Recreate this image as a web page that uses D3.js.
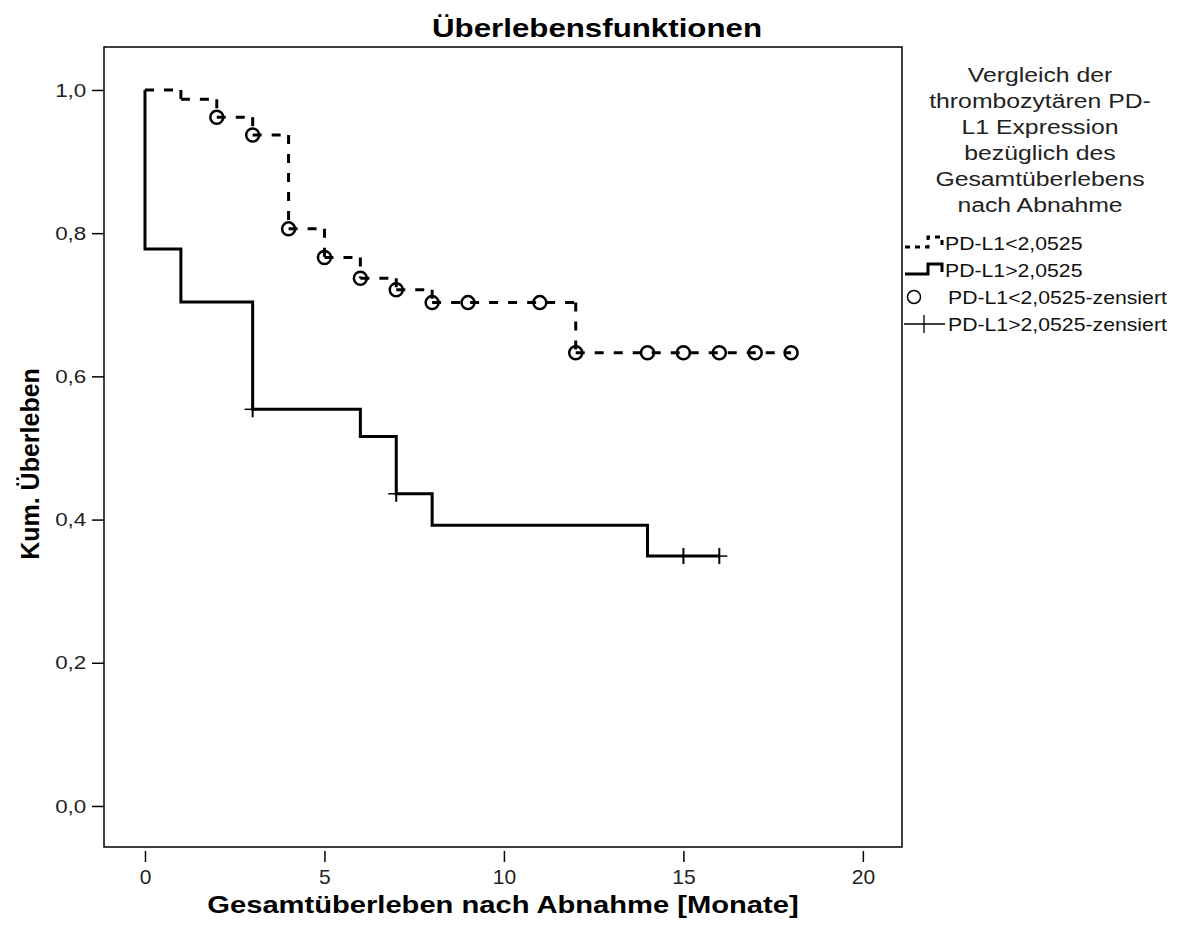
<!DOCTYPE html>
<html>
<head>
<meta charset="utf-8">
<script src="https://cdn.jsdelivr.net/npm/d3@7/dist/d3.min.js"></script>
<style>
  html, body { margin: 0; padding: 0; background: #fff; }
  svg { display: block; }
</style>
</head>
<body>
<script>
// Kaplan-Meier survival: overall survival after sampling, split by platelet PD-L1 expression
const groupNames = ["PD-L1<2,0525", "PD-L1>2,0525"];

// Low group: event times and survival after each event
const lowEventTimes = [1, 2, 3, 4, 5, 6, 7, 8, 12];
const lowSurvival   = [0.987, 0.962, 0.937, 0.806, 0.766, 0.737, 0.721, 0.703, 0.633];
const lowLastTime   = 18;
const lowCensored   = [2, 3, 4, 5, 6, 7, 8, 9, 11, 12, 14, 15, 16, 17, 18];

// High group
const highEventTimes = [0, 1, 3, 6, 7, 8, 14];
const highSurvival   = [0.778, 0.704, 0.554, 0.516, 0.436, 0.392, 0.349];
const highLastTime   = 16;
const highCensored   = [3, 7, 15, 16];

const xTicks = [0, 5, 10, 15, 20];
const yTicks = [0, 0.2, 0.4, 0.6, 0.8, 1.0];

const chartTitle = "Überlebensfunktionen";
const xTitle = "Gesamtüberleben nach Abnahme [Monate]";
const yTitle = "Kum. Überleben";
const legendTitle = ["Vergleich der", "thrombozytären PD-", "L1 Expression", "bezüglich des", "Gesamtüberlebens", "nach Abnahme"];
const legendLabels = ["PD-L1<2,0525", "PD-L1>2,0525", "PD-L1<2,0525-zensiert", "PD-L1>2,0525-zensiert"];

const W = 1177, H = 937;
const FONT = "'Liberation Sans', Arial, sans-serif";
const SX = 1.18; // horizontal glyph stretch

const frame = { left: 104, right: 902, top: 47, bottom: 847 };

const x = d3.scaleLinear().domain([-1.142, 21.09]).range([frame.left, frame.right]);
const y = d3.scaleLinear().domain([-0.0573, 1.06]).range([frame.bottom, frame.top]);

const svg = d3.select("body").append("svg").attr("width", W).attr("height", H);
svg.append("rect").attr("width", W).attr("height", H).attr("fill", "#fff");

function label(parent, px, py, str, size, weight, anchor, sx = SX) {
  return parent.append("text")
    .attr("transform", `translate(${px},${py}) scale(${sx},1)`)
    .attr("font-family", FONT)
    .attr("font-size", size)
    .attr("font-weight", weight)
    .attr("text-anchor", anchor)
    .attr("fill", "#000")
    .text(str);
}

// Frame
svg.append("rect")
  .attr("x", frame.left).attr("y", frame.top)
  .attr("width", frame.right - frame.left).attr("height", frame.bottom - frame.top)
  .attr("fill", "none").attr("stroke", "#000").attr("stroke-width", 1.5);

// Y axis
const fmt = d => d3.format(".1f")(d).replace(".", ",");
const yAxis = svg.append("g").attr("transform", `translate(${frame.left},0)`)
  .call(d3.axisLeft(y).tickValues(yTicks).tickSize(12).tickPadding(3).tickFormat(fmt));
yAxis.select(".domain").remove();
yAxis.selectAll(".tick line").attr("stroke", "#000").attr("stroke-width", 1.5);
yAxis.selectAll(".tick text")
  .attr("font-family", FONT).attr("font-size", 19).attr("fill", "#222")
  .attr("transform", `scale(${SX},1)`);

// X axis (sits just below the frame)
const xAxis = svg.append("g").attr("transform", `translate(0,${frame.bottom + 4})`)
  .call(d3.axisBottom(x).tickValues(xTicks).tickSize(11).tickPadding(7).tickFormat(d3.format("d")));
xAxis.select(".domain").remove();
xAxis.selectAll(".tick line").attr("stroke", "#000").attr("stroke-width", 1.5);
xAxis.selectAll(".tick text")
  .attr("font-family", "'Liberation Sans Narrow', 'Liberation Sans', sans-serif")
  .attr("font-size", 21).attr("fill", "#222");

// Titles
label(svg, 597, 37, chartTitle, 26.5, "bold", "middle");
label(svg, 503, 913, xTitle, 24.7, "bold", "middle");
svg.append("text")
  .attr("transform", `translate(39,464) rotate(-90)`)
  .attr("font-family", FONT).attr("font-size", 25).attr("font-weight", "bold")
  .attr("text-anchor", "middle").text(yTitle);

// Step segments for a KM curve
function stepSegments(times, surv, lastTime) {
  const segs = [];
  let t0 = 0, s0 = 1;
  times.forEach((t, i) => {
    if (t > t0) segs.push([[t0, s0], [t, s0]]);
    segs.push([[t, s0], [t, surv[i]]]);
    t0 = t; s0 = surv[i];
  });
  if (lastTime > t0) segs.push([[t0, s0], [lastTime, s0]]);
  return segs;
}
function survAt(times, surv, t) {
  let s = 1;
  times.forEach((et, i) => { if (et <= t) s = surv[i]; });
  return s;
}

const plot = svg.append("g");

// Low group: dashed, each segment drawn separately
plot.selectAll("line.low")
  .data(stepSegments(lowEventTimes, lowSurvival, lowLastTime))
  .join("line").attr("class", "low")
  .attr("x1", d => x(d[0][0])).attr("y1", d => y(d[0][1]))
  .attr("x2", d => x(d[1][0])).attr("y2", d => y(d[1][1]))
  .attr("stroke", "#000").attr("stroke-width", 3)
  .attr("stroke-dasharray", "9,10");

// High group: solid
const lineGen = d3.line().x(d => x(d[0])).y(d => y(d[1])).curve(d3.curveStepAfter);
const highPts = [[0, 1]];
highEventTimes.forEach((t, i) => highPts.push([t, highSurvival[i]]));
highPts.push([highLastTime, highSurvival[highSurvival.length - 1]]);
plot.append("path")
  .attr("d", lineGen(highPts))
  .attr("fill", "none").attr("stroke", "#000").attr("stroke-width", 3)
  .attr("stroke-linejoin", "miter");

// Censored markers
plot.selectAll("circle.cens")
  .data(lowCensored)
  .join("circle").attr("class", "cens")
  .attr("cx", d => x(d)).attr("cy", d => y(survAt(lowEventTimes, lowSurvival, d)))
  .attr("r", 6.5).attr("fill", "none").attr("stroke", "#000").attr("stroke-width", 2.5);

const plus = plot.selectAll("g.plus")
  .data(highCensored)
  .join("g").attr("class", "plus")
  .attr("transform", d => `translate(${x(d)},${y(survAt(highEventTimes, highSurvival, d))})`);
plus.append("line").attr("x1", -8).attr("x2", 8).attr("y1", 0).attr("y2", 0)
  .attr("stroke", "#000").attr("stroke-width", 1.5);
plus.append("line").attr("x1", 0).attr("x2", 0).attr("y1", -8).attr("y2", 8)
  .attr("stroke", "#000").attr("stroke-width", 2);

// Legend
const leg = svg.append("g");
legendTitle.forEach((t, i) => label(leg, 1040, 82 + i * 26, t, 21, "normal", "middle").attr("fill", "#222"));

const rowY = [250, 277, 304, 331];
const stepIcon = yy => `M905,${yy + 3} H928 V${yy - 7} H942 V${yy + 1}`;
leg.append("path").attr("d", stepIcon(rowY[0] - 6))
  .attr("fill", "none").attr("stroke", "#000").attr("stroke-width", 3).attr("stroke-dasharray", "5,5");
leg.append("path").attr("d", stepIcon(rowY[1] - 6))
  .attr("fill", "none").attr("stroke", "#000").attr("stroke-width", 3);
leg.append("circle").attr("cx", 914).attr("cy", rowY[2] - 7).attr("r", 6.5)
  .attr("fill", "none").attr("stroke", "#000").attr("stroke-width", 1.5);
leg.append("line").attr("x1", 904).attr("x2", 945).attr("y1", rowY[3] - 7).attr("y2", rowY[3] - 7)
  .attr("stroke", "#000").attr("stroke-width", 1.3);
leg.append("line").attr("x1", 924).attr("x2", 924).attr("y1", rowY[3] - 16).attr("y2", rowY[3] + 2)
  .attr("stroke", "#000").attr("stroke-width", 1.3);

const textX = [945, 945, 948, 948];
legendLabels.forEach((t, i) => label(leg, textX[i], rowY[i], t, 18, "normal", "start").attr("fill", "#111"));
</script>
</body>
</html>
